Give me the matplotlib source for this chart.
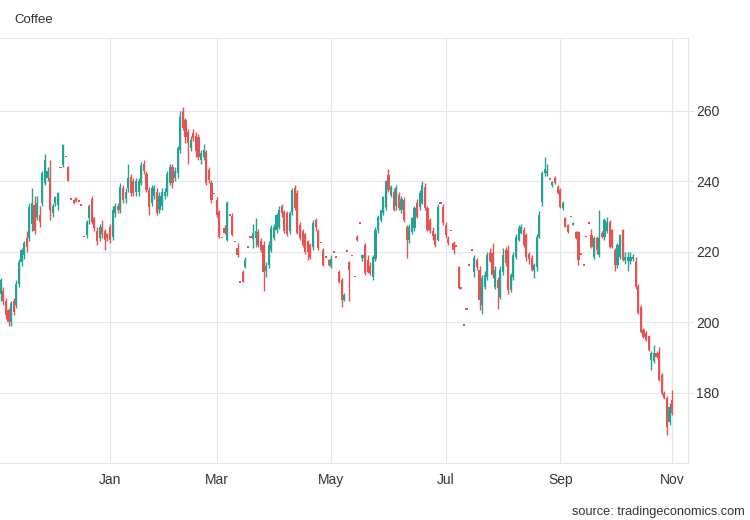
import matplotlib
matplotlib.use('Agg')
import matplotlib.pyplot as plt
import numpy as np
import pandas as pd

plt.rcParams['font.family'] = ['Liberation Sans', 'DejaVu Sans']

start_date = '2021-11-04'
month_labels = ['Jan', 'Mar', 'May', 'Jul', 'Sep', 'Nov']
month_numbers = [1, 3, 5, 7, 9, 11]
y_ticks = [180, 200, 220, 240, 260]

open_ = [
    208, 209, 206, 203.5, 200, 206, 205, 211, 217, 219,
    224, 224, 228, 233.4, 230, 230.5, 234, 239.6, 241, 241,
    231, 234, 233.3, 244, 244.7, 247, 244, 235, 234.7, 235.3,
    234.5, 233.3, 224.3, 224.8, 229.6, 235, 229.6, 226, 224, 227,
    226, 225, 227, 224.3, 231, 233, 232, 238, 235, 238,
    241.3, 240, 237, 237, 239.6, 245, 242, 237.6, 234, 236,
    237, 232, 233, 236, 237, 239.6, 244, 241, 242.4, 249,
    260, 257.5, 254, 249.5, 253.8, 253, 252.6, 246, 247, 248.4,
    243.3, 239.6, 236.6, 234.7, 231.3, 224.1, 226.8, 223.4, 230.5, 230.2,
    223, 221, 211.5, 214.3, 215.7, 221.4, 224.2, 223.7, 224, 225.7,
    223, 222, 214.5, 216.3, 220.5, 224, 226.2, 227, 233, 231.3,
    231, 226, 231.3, 238, 236.7, 227.7, 226, 225, 223, 222,
    221.4, 229, 226, 222.6, 220.5, 218.6, 217.7, 216, 220, 218.6,
    214.3, 212, 206.4, 220.3, 217, 219, 213, 224.3, 228.2, 218.3,
    222, 217.7, 216, 213, 218, 226.2, 229, 231, 232.8, 241.8,
    236.2, 237, 233, 236.2, 232, 234.7, 227, 223.4, 225.7, 226.8,
    234, 232.8, 234, 238.5, 232.5, 229, 226, 224.8, 223.4, 233.9,
    232.8, 227.7, 223.7, 226, 222.5, 221.7, 215.7, 209.8, 199.3, 203.8,
    216.3, 220.5, 214.3, 217.7, 215, 205, 210, 213, 219.7, 219.7,
    210, 212, 207.2, 214.3, 220.5, 220.5, 209.2, 213, 218.6, 223.4,
    225.4, 226.2, 224.8, 219.5, 218.3, 214.9, 215.7, 224.3, 234.2, 242.4,
    242.5, 240.7, 239, 241, 238.4, 237.6, 232.5, 229.6, 227.7, 230,
    227.7, 225.7, 225.7, 219.4, 216.3, 224.3, 228.2, 224.8, 218.6, 224,
    219, 225.4, 224.3, 226, 228.5, 226.2, 220.5, 216.3, 218.6, 226.2,
    217.7, 217.5, 217.5, 218, 217.2, 210, 204.4, 197.9, 197, 196,
    189.4, 189, 191.3, 191.3, 185, 180, 178.6, 171.8, 178,
]

high = [
    212.5, 210, 207, 204, 206, 207, 212, 218, 221, 223,
    226, 234, 238, 236, 236, 233, 243, 247.8, 244, 246,
    234, 236, 237, 244, 250.5, 247, 244.5, 235, 235, 235.5,
    234.5, 233.3, 224.3, 229, 233.5, 236, 230, 227, 228, 229,
    226.5, 225.5, 228, 233, 234, 234, 239.5, 239, 238, 245,
    242, 241, 241, 241, 245.5, 246, 243, 238.5, 239, 239,
    238, 237, 238, 238, 243, 245, 245, 244, 250, 260,
    261, 258, 255, 253, 255, 254, 253.5, 249, 250.5, 249,
    244, 240.5, 236.6, 235.5, 232, 224.1, 227.5, 234.5, 230.5, 231,
    223, 222.5, 211.5, 214.8, 218.5, 221.4, 224.2, 228, 229.5, 226.5,
    224, 223, 217, 223, 227.5, 228, 231, 233, 233.5, 232,
    231.5, 231.5, 238, 239, 237.5, 228.5, 226.5, 225.5, 223.5, 222.5,
    229, 229.5, 226.5, 222.6, 221, 218.6, 218, 219, 220, 218.6,
    214.8, 212.5, 208.2, 220.3, 217.5, 219, 213, 224.8, 228.2, 219.5,
    222.5, 219, 217, 219, 227, 230.5, 232, 236, 240.5, 243.5,
    239, 238, 239, 237, 236, 235.5, 227.5, 228, 230, 233,
    235, 237.5, 240, 239.5, 233, 229.5, 227, 225.5, 233.5, 233.9,
    233.5, 228.5, 224.5, 226, 223, 221.7, 216, 209.8, 199.3, 203.8,
    216.3, 220.5, 219, 218.3, 216, 213.5, 214.5, 220, 221, 222.5,
    216, 213, 216, 221, 221.5, 222, 214, 220, 225, 227.5,
    228, 227, 225.5, 220, 219, 216.8, 225, 231.5, 243, 247,
    245, 240.7, 240.2, 241.5, 239, 238, 234.5, 230, 228, 230,
    228.5, 226, 226, 219.4, 216.3, 224.3, 228.2, 226.6, 224.5, 224.5,
    232, 226, 229.5, 230, 229, 226.6, 221, 222.5, 225, 226.6,
    220, 220, 220, 219.5, 218.5, 211, 205, 198.5, 197.5, 196.5,
    192, 193.5, 192, 193, 185.5, 180.5, 179, 177, 180.8,
]

low = [
    206, 205, 201, 199, 199, 202, 204, 210, 216, 218,
    220, 223, 226, 225, 229, 227, 233, 239, 240, 229,
    230, 233, 232, 244, 244, 247, 240, 235, 233.5, 234.3,
    234.5, 233.3, 224.3, 224, 228, 228, 226, 222, 223, 224,
    220.5, 223, 222.5, 223.5, 230, 231, 231, 234, 234, 237,
    236, 236, 236, 236, 239, 242, 237, 230.5, 233, 235,
    230.5, 231, 232, 235, 236, 239, 238, 240, 241, 248,
    254.5, 251, 245, 248.5, 251.5, 247, 246, 245, 246, 239,
    239.5, 234, 236.6, 230, 224, 224.1, 225, 223, 230.5, 224.5,
    223, 218.5, 211.5, 211.5, 215.5, 221.4, 224.2, 221, 221.5, 221.5,
    220, 209, 213, 215.5, 220, 223.5, 225.5, 226.5, 230, 225.5,
    224.5, 225, 230.5, 232, 225, 223.5, 221.5, 219.5, 217.7, 218,
    220.5, 226, 220.5, 222.6, 216, 218.6, 216, 215.5, 220, 218.6,
    211.3, 204.5, 206, 220.3, 206, 219, 213, 223, 228.2, 217.5,
    213.5, 214, 213.5, 212, 217.5, 225.5, 228.5, 230.5, 232, 237,
    235.5, 231.5, 232, 232, 231, 228.5, 218.2, 222.5, 225, 226,
    229.5, 232, 233.5, 232, 226, 225.5, 223.5, 221.5, 223, 233.9,
    227.5, 224, 222, 226, 219.4, 221.7, 209.5, 209.8, 199.3, 203.8,
    216.3, 220.5, 213, 215, 203.5, 202.3, 209.5, 212, 217, 212.5,
    209.5, 203.8, 206.5, 213.5, 216, 208, 208.5, 212, 218, 223,
    225, 221.5, 217.5, 216.5, 214.5, 212.5, 214.5, 224, 233, 241.5,
    241.5, 240.7, 238.5, 239.3, 236.5, 232.5, 232, 227, 225.5, 230,
    227.5, 223.8, 216.3, 219.4, 216.3, 224.3, 228.2, 221, 218, 219.5,
    218.5, 224, 223.5, 225.5, 221, 221, 214.5, 215.5, 218, 217.5,
    216.5, 214.5, 216.5, 217.5, 209.5, 202.5, 197, 195.5, 194.8, 191.8,
    186.5, 188.5, 189.8, 183.5, 179.5, 178.3, 168.1, 171, 173.8,
]

close = [
    212, 206, 202, 200, 205.5, 203, 211, 217, 220.5, 222.5,
    221.4, 232.8, 234, 226, 234, 228.5, 242.4, 246, 243, 232,
    233, 235.5, 236.7, 244, 250.4, 247, 240, 235, 233.8, 234.5,
    234.5, 233.3, 224.3, 228.5, 233, 228.5, 226.8, 223, 227, 225,
    223.4, 224, 223.4, 232, 233, 232, 238.5, 234.7, 237, 241,
    236.7, 236.7, 240, 240, 244.7, 243, 237.5, 232.8, 238, 238,
    231, 236, 237, 237, 242, 244, 239.6, 243, 249.5, 258.3,
    255.2, 252.6, 251, 251.8, 252.3, 248.6, 247, 248, 249, 239.6,
    240.5, 234.7, 236.6, 230.5, 224.3, 224.1, 225.4, 234, 230.5, 224.8,
    223, 219, 211.5, 211.5, 217.7, 221.4, 224.2, 225.4, 226, 222,
    220.5, 214.3, 216, 222, 226.8, 227, 230.5, 232, 231, 226,
    225, 231, 237.6, 232.5, 225.4, 224, 222, 220, 220, 218.5,
    228.2, 227, 221, 222.6, 216.3, 218.6, 216.3, 218, 220, 218.6,
    211.5, 206.4, 207.8, 220.3, 215, 219, 213, 223.4, 228.2, 219,
    214, 214.3, 214, 218.6, 226.2, 230, 231.9, 235.6, 240, 237.6,
    238.4, 232, 238, 232.5, 235, 229, 223.4, 227, 229.6, 232.5,
    230, 236.7, 239, 232.5, 226.2, 226, 224.5, 222, 232.8, 233.9,
    228.2, 224.8, 222.5, 226, 220.5, 221.7, 209.8, 209.8, 199.3, 203.8,
    216.3, 220.5, 218.3, 215.7, 206.4, 212.6, 213.5, 219, 217.5, 213.5,
    215, 209.8, 215, 219, 216.9, 209.2, 213.5, 219, 224.3, 226.8,
    227, 222, 218.6, 218, 215, 216.3, 224.3, 230.5, 242.4, 243.5,
    243, 240.7, 239.8, 239.6, 236.7, 232.8, 234, 227.1, 225.7, 230,
    228.2, 224, 217.7, 219.4, 216.3, 224.3, 228.2, 221.4, 224, 220.5,
    224, 224.3, 229, 228.5, 221.4, 221.4, 216.3, 222, 224.8, 217.7,
    218.5, 218.5, 218.5, 218.5, 210, 202.7, 197.3, 195.9, 195, 192.2,
    191.3, 191.3, 190.3, 183.7, 180, 178.6, 170.4, 176, 174.3,
]

GREEN = '#23a394'
RED = '#e8524f'
GRID = '#e6e6e6'
TXT = '#333333'

o = np.array(open_, dtype=float)
h = np.array(high, dtype=float)
l = np.array(low, dtype=float)
c = np.array(close, dtype=float)
n = len(c)
dates = pd.bdate_range(start_date, periods=n)
x = np.arange(n)

fig = plt.figure(figsize=(7.5, 5.2), dpi=100)
ax = fig.add_axes([0.0, 1 - 463 / 520, 688 / 750, (463 - 38) / 520])

colors = np.where(c > o, GREEN, RED)
top = np.maximum(h, np.maximum(o, c))
bot = np.minimum(l, np.minimum(o, c))
ax.vlines(x, bot, top, colors=colors, linewidth=1.0, zorder=3)
flat = np.abs(c - o) < 0.4
body_h = np.where(flat, 0.4, np.abs(c - o))
body_b = np.where(flat, np.minimum(o, c) - 0.2, np.minimum(o, c))
ax.bar(x, body_h, bottom=body_b, width=0.82, color=colors, linewidth=0, zorder=4)

tick_pos = []
for m in month_numbers:
    idx = np.where((dates.year == 2022) & (dates.month == m))[0][0]
    tick_pos.append(idx)
ax.set_xticks(tick_pos)
ax.set_xticklabels(month_labels)
ax.set_yticks(y_ticks)
ax.yaxis.tick_right()

ax.set_xlim(-0.27, 264.1)
ax.set_ylim(160.1, 280.7)

ax.grid(True, color=GRID, linewidth=0.8, zorder=0)
ax.set_axisbelow(True)
for side in ['top', 'right', 'bottom']:
    ax.spines[side].set_color(GRID)
    ax.spines[side].set_linewidth(0.8)
ax.spines['left'].set_visible(False)

ax.tick_params(axis='y', which='both', length=4, color=GRID, labelsize=10,
               labelcolor=TXT, pad=2)
ax.tick_params(axis='x', which='both', length=0, labelsize=10,
               labelcolor=TXT, pad=15)
for lbl in ax.get_xticklabels():
    lbl.set_verticalalignment('baseline')

fig.text(14 / 750, 1 - 20 / 520, 'Coffee', fontsize=9.5, color=TXT,
         ha='left', va='center')
fig.text(745 / 750, 1 - 512 / 520, 'source: tradingeconomics.com',
         fontsize=9.2, color=TXT, ha='right', va='center')

fig.savefig('out.png', dpi=100)
